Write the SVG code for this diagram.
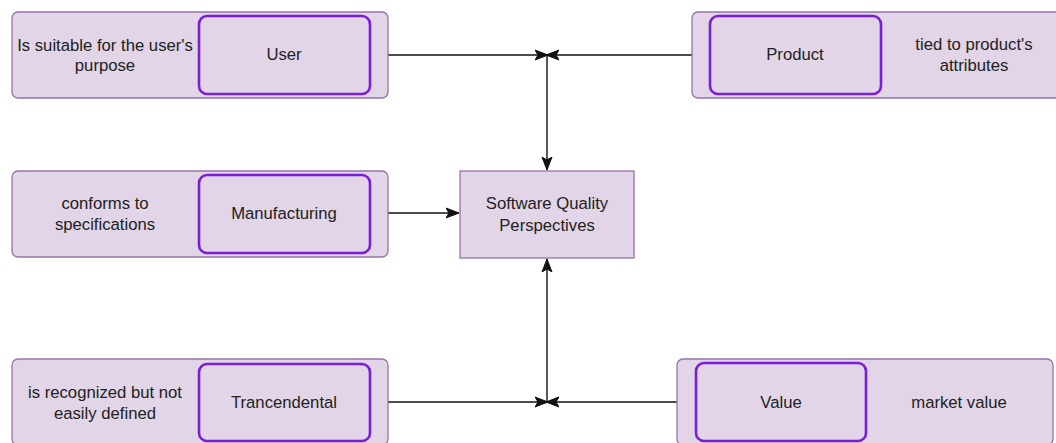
<svg xmlns="http://www.w3.org/2000/svg" width="1056" height="443" viewBox="0 0 1056 443">
  <defs>
    <style>
      .outer { fill: #e1d5e7; stroke: #9673a6; stroke-width: 1.3; }
      .inner { fill: #e1d5e7; stroke: #7a1fd8; stroke-width: 2.6; }
      .hub { fill: #e1d5e7; stroke: #9673a6; stroke-width: 1.3; }
      .lbl { font-family: "Liberation Sans", Arial, sans-serif; font-size: 16.7px; fill: #222; text-anchor: middle; }
      .edge { fill: none; stroke: #111; stroke-width: 1.4; }
    </style>
    <marker id="arrow" viewBox="0 -6 14 12" markerWidth="14" markerHeight="12" refX="13" refY="0" orient="auto" markerUnits="userSpaceOnUse">
      <path d="M0,-5 L13,0 L0,5 L3,0 Z" fill="#111" stroke="#111" stroke-width="1"/>
    </marker>
  </defs>

  <g id="connectors">
    <path class="edge" d="M388,55 L548,55" marker-end="url(#arrow)"/>
    <path class="edge" d="M692,55 L546,55" marker-end="url(#arrow)"/>
    <path class="edge" d="M547,55 L547,170" marker-end="url(#arrow)"/>
    <path class="edge" d="M388,213 L459,213" marker-end="url(#arrow)"/>
    <path class="edge" d="M388,402 L548,402" marker-end="url(#arrow)"/>
    <path class="edge" d="M677,402 L546,402" marker-end="url(#arrow)"/>
    <path class="edge" d="M547,402 L547,259" marker-end="url(#arrow)"/>
  </g>

  <g id="node-user">
    <rect class="outer" x="12" y="12" width="376" height="86" rx="6"/>
    <rect class="inner" x="199" y="16" width="171" height="78" rx="8"/>
    <text class="lbl" x="105" y="51">Is suitable for the user's</text>
    <text class="lbl" x="105" y="71">purpose</text>
    <text class="lbl" x="284" y="60">User</text>
  </g>

  <g id="node-product">
    <rect class="outer" x="692" y="12" width="376" height="86" rx="6"/>
    <rect class="inner" x="710" y="16" width="171" height="78" rx="8"/>
    <text class="lbl" x="795" y="60">Product</text>
    <text class="lbl" x="974" y="50">tied to product's</text>
    <text class="lbl" x="974" y="71">attributes</text>
  </g>

  <g id="node-manufacturing">
    <rect class="outer" x="12" y="171" width="376" height="86" rx="6"/>
    <rect class="inner" x="199" y="175" width="171" height="78" rx="8"/>
    <text class="lbl" x="105" y="209">conforms to</text>
    <text class="lbl" x="105" y="230">specifications</text>
    <text class="lbl" x="284" y="219">Manufacturing</text>
  </g>

  <g id="node-perspectives">
    <rect class="hub" x="460" y="171" width="174" height="87"/>
    <text class="lbl" x="547" y="209">Software Quality</text>
    <text class="lbl" x="547" y="231">Perspectives</text>
  </g>

  <g id="node-trancendental">
    <rect class="outer" x="12" y="359" width="376" height="86" rx="6"/>
    <rect class="inner" x="199" y="364" width="171" height="77" rx="8"/>
    <text class="lbl" x="105" y="398">is recognized but not</text>
    <text class="lbl" x="105" y="419">easily defined</text>
    <text class="lbl" x="284" y="408">Trancendental</text>
  </g>

  <g id="node-value">
    <rect class="outer" x="677" y="359" width="376" height="86" rx="6"/>
    <rect class="inner" x="696" y="363" width="170" height="78" rx="8"/>
    <text class="lbl" x="781" y="408">Value</text>
    <text class="lbl" x="959" y="408">market value</text>
  </g>
</svg>
